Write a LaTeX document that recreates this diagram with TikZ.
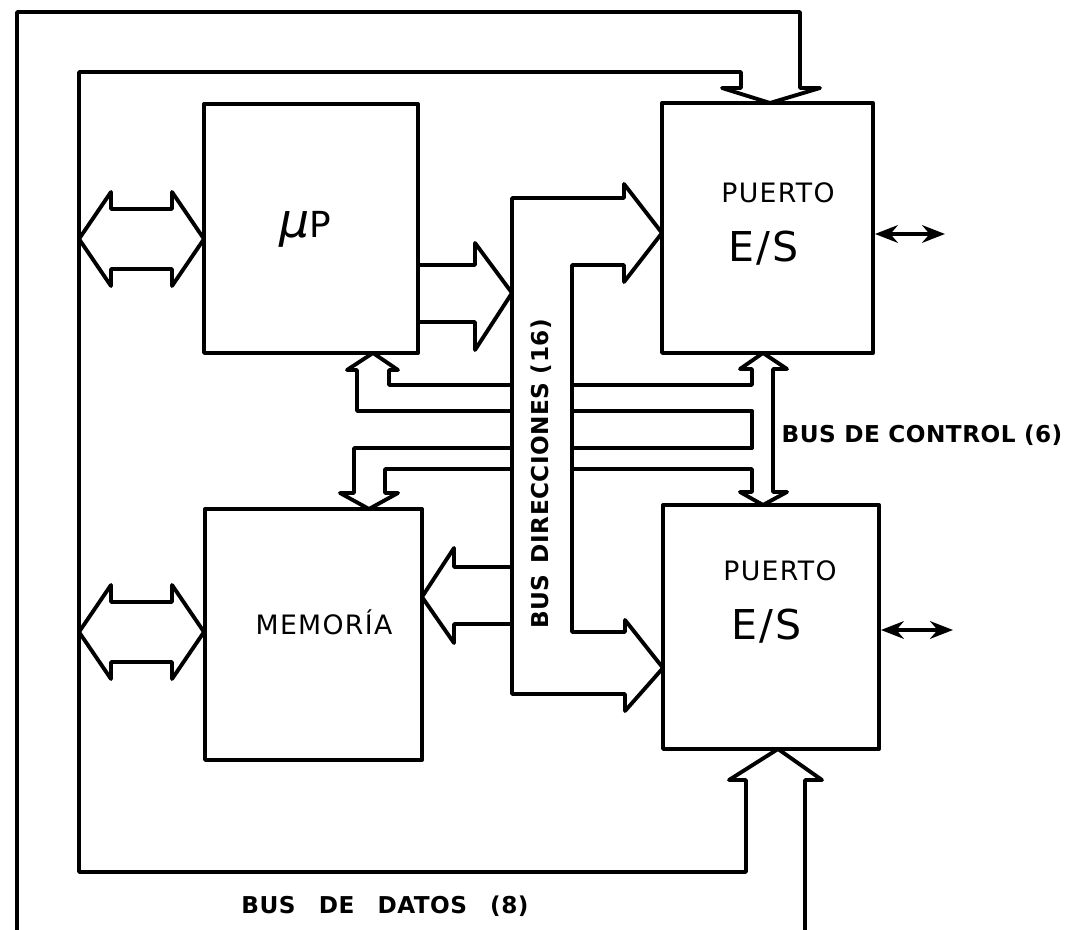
\documentclass[tikz,border=0pt]{standalone}
\usepackage{fontspec}
\usetikzlibrary{arrows.meta}
\newfontfamily\rotulo[LetterSpace=5]{DejaVu Sans}
\newfontfamily\rotulobus[LetterSpace=2]{DejaVu Sans}
\begin{document}
\begin{tikzpicture}[x=0.1mm, y=-0.1mm, >={Stealth[length=6.5pt,width=5pt]}, line join=round, line cap=round, line width=1.1pt,
  caja/.style={draw, line width=1.1pt, inner sep=0pt},
  chico/.style={font=\rotulo\fontsize{7.6}{9}\selectfont, inner sep=0pt},
  grande/.style={font=\rotulo\fontsize{11.7}{13}\selectfont, inner sep=0pt},
  bus/.style={font=\rotulobus\bfseries\fontsize{6.6}{8}\selectfont, inner sep=0pt}]
	\useasboundingbox (0,0) rectangle (1076,930);
	
	% bloques
	\node[caja, minimum width=21.4mm, minimum height=24.9mm] (MP) at (311,228.5) {};
	\node[caja, minimum width=21.7mm, minimum height=25.1mm] (MEM) at (313.5,634.5) {};
	\node[caja, minimum width=21.1mm, minimum height=25mm] (P1) at (767.5,228) {};
	\node[caja, minimum width=21.6mm, minimum height=24.4mm] (P2) at (771,627) {};
	
	\node[font=\rotulo\fontsize{10.2}{12}\selectfont, inner sep=0pt, anchor=base] (tMP) at (305,238) {{\fontsize{13.5}{14}\selectfont\itshape μ}P};
	\node[chico] (tMEM) at (324,622) {MEMORÍA};
	\node[chico] (tP1) at (778,193) {PUERTO};
	\node[grande] (tES1) at (764,248) {E/S};
	\node[chico] (tP2) at (780,571) {PUERTO};
	\node[grande] (tES2) at (767,626) {E/S};
	
	% bus de datos
	\draw (17,930) -- (17,12) -- (800,12) -- (800,88) -- (820,88) -- (770,103) -- (722,88) -- (741,88) -- (741,72)
		-- (79,72) -- (79,872) -- (746,872) -- (746,780) -- (729,780) -- (778,749) -- (822,780) -- (805,780) -- (805,930);
	\foreach \y in {239,632}
	\draw (79,\y) -- (111,\y-47) -- (111,\y-30) -- (172,\y-30) -- (172,\y-47) -- (204,\y)
		-- (172,\y+47) -- (172,\y+30) -- (111,\y+30) -- (111,\y+47) -- cycle;
	
	% bus de direcciones
	\draw (418,265) -- (475,265) -- (475,243) -- (512,293) -- (475,350) -- (475,322) -- (418,322);
	\draw (512,567) -- (454,567) -- (454,548) -- (422,597) -- (454,643) -- (454,624) -- (512,624);
	\draw (662,233) -- (624,184) -- (624,198) -- (512,198) -- (512,694) -- (625,694) -- (625,711) -- (663,668)
		-- (625,620) -- (625,632) -- (572,632) -- (572,265) -- (624,265) -- (624,282) -- cycle;
	
	% bus de control
	\draw (512,385) -- (389,385) -- (389,370) -- (398,370) -- (373,353) -- (347,370) -- (357,370) -- (357,411) -- (512,411);
	\draw (512,448) -- (354,448) -- (354,493) -- (340,493) -- (369,509) -- (398,493) -- (385,493) -- (385,469) -- (512,469);
	\draw (572,385) -- (752,385) -- (752,369) -- (740,369) -- (763,353) -- (787,369) -- (773,369) -- (773,492)
		-- (787,492) -- (763,505) -- (740,492) -- (752,492) -- (752,469) -- (572,469);
	\draw (572,411) -- (752,411) -- (752,448) -- (572,448);
	
	% salidas de los puertos
	\coordinate (s1) at (945,234);
	\coordinate (s2) at (953,630);
	\draw[<->] (P1.east |- s1) -- (s1);
	\draw[<->] (P2.east |- s2) -- (s2);
	
	\node[bus, rotate=90] (bdir) at (541,474) {BUS\enspace DIRECCIONES (16)};
	\node[bus] (bctl) at (922,435) {BUS DE CONTROL (6)};
	\node[bus] (bdat) at (385,906) {BUS\quad DE\quad DATOS\quad (8)};
\end{tikzpicture}
\end{document}
